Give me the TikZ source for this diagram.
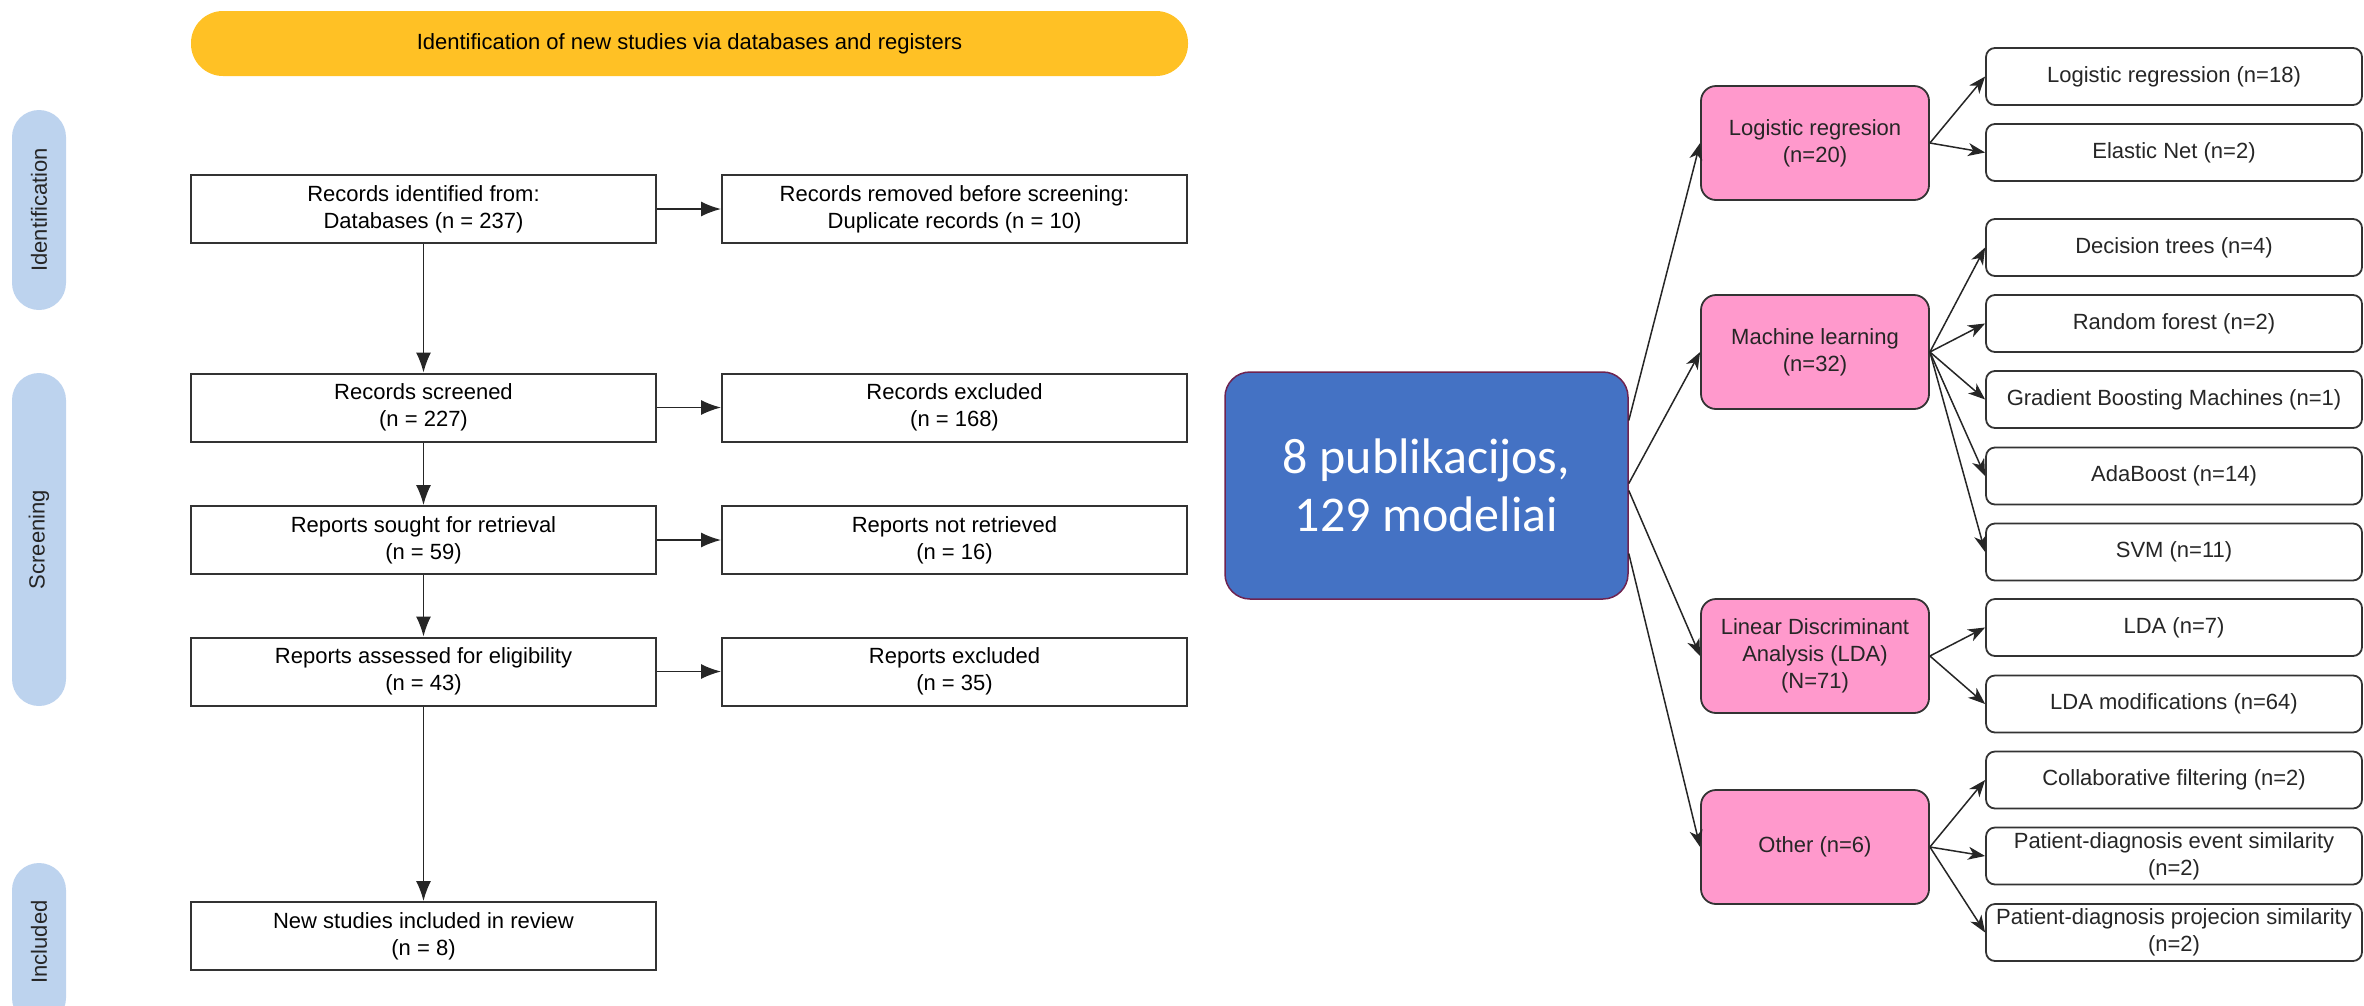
\documentclass[tikz,border=0pt]{standalone}
\usepackage{fontspec}
\setmainfont{Liberation Sans}
\newfontfamily\calfont{Carlito}
\usetikzlibrary{arrows.meta,calc}
\definecolor{banner}{HTML}{FFC125}
\definecolor{sidebl}{HTML}{BDD3EE}
\definecolor{pinkbx}{HTML}{FF99CC}
\definecolor{bluebx}{HTML}{4472C4}
\definecolor{blueedge}{HTML}{6E2350}
\definecolor{txtgray}{HTML}{262626}
\tikzset{
  txt/.style={font=\fontsize{22}{27}\selectfont, align=center},
  prisma/.style={txt, draw=black!80, line width=2pt, fill=white,
    minimum width=465pt, minimum height=68pt, inner sep=0pt},
  sidepill/.style={fill=sidebl, rounded corners=27pt, minimum width=54pt,
    inner sep=0pt, text=txtgray, font=\fontsize{22}{27}\selectfont},
  sidetxt/.style={rotate=90, text=txtgray, font=\fontsize{22}{27}\selectfont},
  pinkbox/.style={txt, text=txtgray, draw=black!80, line width=1.8pt, fill=pinkbx,
    rounded corners=15pt, minimum width=228pt, minimum height=114pt, inner sep=0pt},
  leafbox/.style={txt, text=txtgray, draw=black!80, line width=1.8pt, fill=white,
    rounded corners=9pt, minimum width=376pt, minimum height=57pt, inner sep=0pt},
  parrow/.style={line width=1.5pt, draw=black!85, -{Latex[length=20pt,width=15pt]}},
  marrow/.style={line width=1.5pt, draw=black!85, -{Stealth[length=17pt,width=13pt,inset=5pt]}},
}
\begin{document}
\begin{tikzpicture}[x=1pt,y=-1pt]
\useasboundingbox (0,0) rectangle (2364,1005);
% banner
\node[txt, fill=banner, rounded corners=32pt, minimum width=997pt, minimum height=65pt, inner sep=0pt]
  (ban) at (689.5,43.5) {Identification of new studies via databases and registers};
% side pills
\node[sidepill, minimum height=200pt] (sideid) at (39,210) {};
\node[sidetxt] (sideidt) at (sideid.center) {Identification};
\node[sidepill, minimum height=333pt] (sidesc) at (39,539.5) {};
\node[sidetxt] (sidesct) at (sidesc.center) {Screening};
\node[sidepill, minimum height=162pt] (sidein) at (39,944) {};
\node[sidetxt] (sideint) at (39,942) {Included};
% PRISMA boxes
\node[prisma] (r1) at (423.5,209) {Records identified from:\\Databases (n = 237)};
\node[prisma] (r1b) at (954.5,209) {Records removed before screening:\\Duplicate records (n = 10)};
\node[prisma] (r2) at (423.5,407.5) {Records screened\\(n = 227)};
\node[prisma] (r2b) at (954.5,407.5) {Records excluded\\(n = 168)};
\node[prisma] (r3) at (423.5,540) {Reports sought for retrieval\\(n = 59)};
\node[prisma] (r3b) at (954.5,540) {Reports not retrieved\\(n = 16)};
\node[prisma] (r4) at (423.5,671.5) {Reports assessed for eligibility\\(n = 43)};
\node[prisma] (r4b) at (954.5,671.5) {Reports excluded\\(n = 35)};
\node[prisma] (r5) at (423.5,936) {New studies included in review\\(n = 8)};
\draw[parrow] (r1) -- (r1b);
\draw[parrow] (r2) -- (r2b);
\draw[parrow] (r3) -- (r3b);
\draw[parrow] (r4) -- (r4b);
\draw[parrow] (r1) -- (r2);
\draw[parrow] (r2) -- (r3);
\draw[parrow] (r3) -- (r4);
\draw[parrow] (r4) -- (r5);
% central box
\node[fill=bluebx, draw=blueedge, line width=1.5pt, rounded corners=25pt,
  minimum width=403pt, minimum height=227pt, inner sep=0pt, text=white, align=center,
  font=\calfont\fontsize{50}{58}\selectfont] (blue) at (1426.5,485.5) {8 publikacijos,\\129 modeliai};
% pink boxes
\node[pinkbox] (lr) at (1815,143) {Logistic regresion\\(n=20)};
\node[pinkbox] (ml) at (1815,352) {Machine learning\\(n=32)};
\node[pinkbox] (lda) at (1815,656) {Linear Discriminant\\Analysis (LDA)\\(N=71)};
\node[pinkbox] (oth) at (1815,847) {Other (n=6)};
% leaf boxes
\node[leafbox] (l1) at (2174,76.5) {Logistic regression (n=18)};
\node[leafbox] (l2) at (2174,152.5) {Elastic Net (n=2)};
\node[leafbox] (l3) at (2174,247.5) {Decision trees (n=4)};
\node[leafbox] (l4) at (2174,323.5) {Random forest (n=2)};
\node[leafbox] (l5) at (2174,399.5) {Gradient Boosting Machines (n=1)};
\node[leafbox] (l6) at (2174,476) {AdaBoost (n=14)};
\node[leafbox] (l7) at (2174,552) {SVM (n=11)};
\node[leafbox] (l8) at (2174,627.5) {LDA (n=7)};
\node[leafbox] (l9) at (2174,704) {LDA modifications (n=64)};
\node[leafbox] (l10) at (2174,780) {Collaborative filtering (n=2)};
\node[leafbox] (l11) at (2174,856) {Patient-diagnosis event similarity\\(n=2)};
\node[leafbox] (l12) at (2174,932.5) {Patient-diagnosis projecion similarity\\(n=2)};
% start points on central box
\coordinate (s1) at ($(blue.east)+(0,-65)$);
\coordinate (s2) at ($(blue.east)+(0,-2)$);
\coordinate (s3) at ($(blue.east)+(0,5)$);
\coordinate (s4) at ($(blue.east)+(0,68)$);
\draw[marrow] (s1) -- (lr.west);
\draw[marrow] (s2) -- (ml.west);
\draw[marrow] (s3) -- (lda.west);
\draw[marrow] (s4) -- (oth.west);
% branch arrows
\foreach \a/\b in {lr/l1, lr/l2, ml/l3, ml/l4, ml/l5, ml/l6, ml/l7, lda/l8, lda/l9, oth/l10, oth/l11, oth/l12}
  \draw[marrow] (\a.east) -- (\b.west);
\end{tikzpicture}
\end{document}
